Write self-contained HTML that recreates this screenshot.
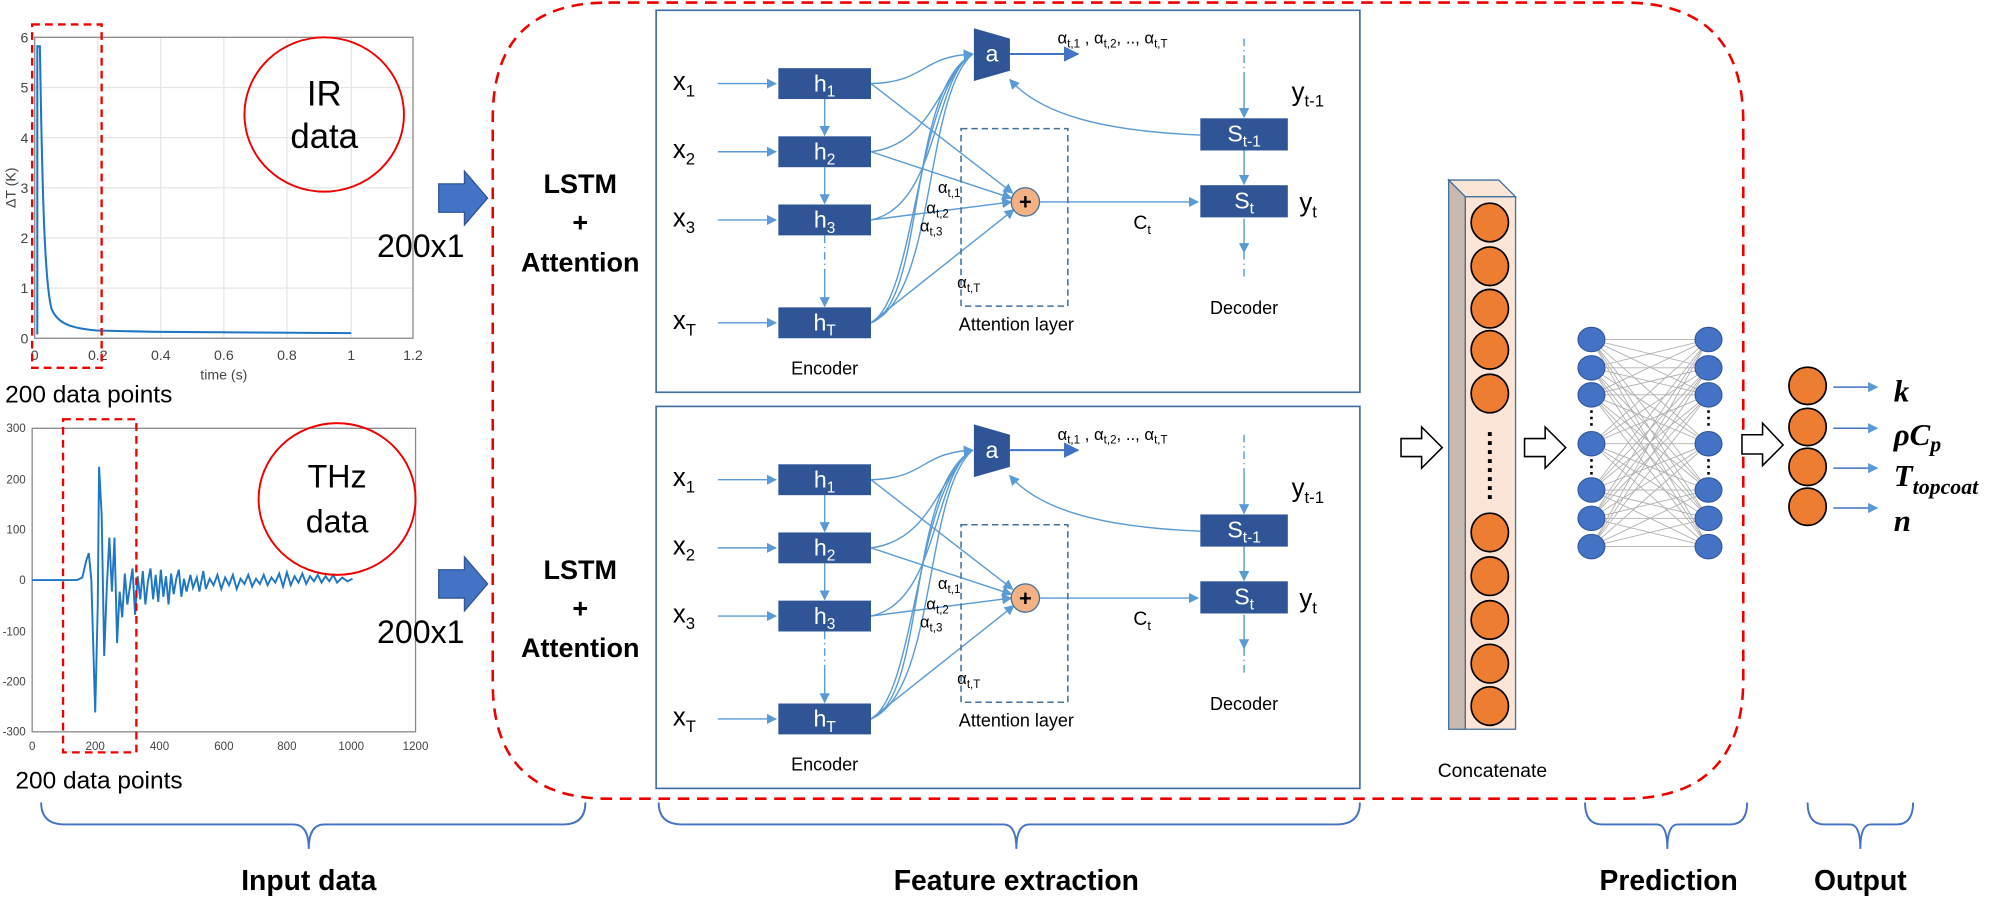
<!DOCTYPE html>
<html><head><meta charset="utf-8"><style>html,body{margin:0;padding:0;background:#fff}svg{display:block}</style></head>
<body>
<svg xmlns="http://www.w3.org/2000/svg" width="2007" height="899" viewBox="0 0 1560 699" preserveAspectRatio="none" font-family="Liberation Sans, sans-serif">
<defs>
<marker id="ar" markerWidth="8" markerHeight="8" refX="7" refY="4" orient="auto" markerUnits="userSpaceOnUse"><path d="M0,0 L8,4 L0,8 Z" fill="#5b9bd5"/></marker>
<marker id="ar2" markerWidth="12" markerHeight="12" refX="11" refY="6" orient="auto" markerUnits="userSpaceOnUse"><path d="M0,0 L12,6 L0,12 Z" fill="#4472c4"/></marker>
</defs>

<!-- IR plot -->
<g stroke="#e6e6e6" stroke-width="1">
<line x1="76" y1="29" x2="76" y2="263"/><line x1="125" y1="29" x2="125" y2="263"/><line x1="174" y1="29" x2="174" y2="263"/><line x1="223" y1="29" x2="223" y2="263"/><line x1="273" y1="29" x2="273" y2="263"/>
<line x1="27" y1="68" x2="321" y2="68"/><line x1="27" y1="107" x2="321" y2="107"/><line x1="27" y1="146" x2="321" y2="146"/><line x1="27" y1="185" x2="321" y2="185"/><line x1="27" y1="224" x2="321" y2="224"/>
</g>
<rect x="27" y="29" width="294" height="234" fill="none" stroke="#888" stroke-width="1"/>
<g font-size="11" fill="#444" text-anchor="end">
<text x="22" y="33">6</text><text x="22" y="72">5</text><text x="22" y="111">4</text><text x="22" y="150">3</text><text x="22" y="189">2</text><text x="22" y="228">1</text><text x="22" y="267">0</text>
</g>
<g font-size="11" fill="#444" text-anchor="middle">
<text x="27" y="280">0</text><text x="76" y="280">0.2</text><text x="125" y="280">0.4</text><text x="174" y="280">0.6</text><text x="223" y="280">0.8</text><text x="273" y="280">1</text><text x="321" y="280">1.2</text>
<text x="174" y="295">time (s)</text>
</g>
<text x="12" y="146" font-size="11" fill="#444" text-anchor="middle" transform="rotate(-90 12 146)">ΔT (K)</text>
<path d="M29,260 L29,36 L31,36 C33,160 35,220 40,240 C45,252 55,255 75,257 L120,258 L273,259" fill="none" stroke="#1f77c4" stroke-width="1.6"/>
<rect x="25" y="19" width="54" height="267" fill="none" stroke="#e00" stroke-width="1.8" stroke-dasharray="6,4"/>
<ellipse cx="252" cy="89" rx="62" ry="60" fill="none" stroke="#e00" stroke-width="1.5"/>
<text x="252" y="82" font-size="27" text-anchor="middle">IR</text>
<text x="252" y="115" font-size="27" text-anchor="middle">data</text>
<text x="4" y="313" font-size="19">200 data points</text>

<!-- THz plot -->
<rect x="25" y="333" width="298" height="236" fill="none" stroke="#888" stroke-width="1"/>
<g font-size="9" fill="#444" text-anchor="end">
<text x="20" y="336">300</text><text x="20" y="376">200</text><text x="20" y="415">100</text><text x="20" y="454">0</text><text x="20" y="494">-100</text><text x="20" y="533">-200</text><text x="20" y="572">-300</text>
</g>
<g font-size="9" fill="#444" text-anchor="middle">
<text x="25" y="583">0</text><text x="74" y="583">200</text><text x="124" y="583">400</text><text x="174" y="583">600</text><text x="223" y="583">800</text><text x="273" y="583">1000</text><text x="323" y="583">1200</text>
</g>
<path d="M25,451 L60,451 L64,449 L67,436 L69,430 L71,451 L73,520 L74,554 L76,470 L77,363 L79,400 L81,510 L83,457 L85,418 L87,460 L89,418 L91,500 L93,460 L95,480 L97,446 L99,470 L101,456 L103,442 L105,478 L107,448 L109,466 L111,444 L113,470 L115,452 L117,442 L119,466 L121,447 L123,468 L125,443 L127,464 L129,448 L131,470 L133,446 L135,462 L137,450 L139,443 L141,464 L143,450 L145,460 L148,447 L150,457 L153,449 L155,460 L158,444 L160,458 L163,450 L166,455 L169,447 L172,458 L175,449 L178,455 L181,447 L184,458 L187,450 L190,454 L193,447 L196,456 L199,450 L202,454 L205,447 L208,455 L211,449 L214,453 L217,446 L220,456 L223,445 L226,455 L229,448 L232,453 L235,446 L238,454 L241,448 L244,452 L247,447 L250,453 L253,448 L256,452 L259,447 L262,453 L266,449 L270,452 L274,450" fill="none" stroke="#1f77c4" stroke-width="1.5"/>
<rect x="49" y="326" width="57" height="259" fill="none" stroke="#e00" stroke-width="1.8" stroke-dasharray="6,4"/>
<ellipse cx="262" cy="388" rx="61" ry="59" fill="none" stroke="#e00" stroke-width="1.5"/>
<text x="262" y="379" font-size="25" text-anchor="middle">THz</text>
<text x="262" y="414" font-size="25" text-anchor="middle">data</text>
<text x="12" y="613" font-size="19">200 data points</text>

<!-- blue arrows -->
<polygon points="341,143 361,143 361,133 379,154 361,175 361,165 341,165" fill="#4472c4" stroke="#2f5597" stroke-width="1"/>
<polygon points="341,443 361,443 361,433 379,454 361,475 361,465 341,465" fill="#4472c4" stroke="#2f5597" stroke-width="1"/>
<text x="293" y="200" font-size="25">200x1</text>
<text x="293" y="500" font-size="25">200x1</text>
<g font-size="21" font-weight="bold" text-anchor="middle">
<text x="451" y="150">LSTM</text><text x="451" y="180">+</text><text x="451" y="211">Attention</text>
<text x="451" y="450">LSTM</text><text x="451" y="480">+</text><text x="451" y="511">Attention</text>
</g>

<!-- red dashed outer -->
<path d="M473,2 L1262,2 Q1355,2 1355,95 L1355,528 Q1355,621 1262,621 L473,621 Q383,621 383,531 L383,92 Q383,2 473,2 Z" fill="none" stroke="#e00" stroke-width="2" stroke-dasharray="9,6"/>

<!-- Encoder block (top) -->
<g>
<rect x="510" y="8" width="547" height="297" fill="#fff" stroke="#41719c" stroke-width="1.3"/>
<g stroke="#5b9bd5" stroke-width="1.1" fill="none">
<line x1="558" y1="65" x2="603" y2="65" marker-end="url(#ar)"/>
<line x1="558" y1="118" x2="603" y2="118" marker-end="url(#ar)"/>
<line x1="558" y1="171" x2="603" y2="171" marker-end="url(#ar)"/>
<line x1="558" y1="251" x2="603" y2="251" marker-end="url(#ar)"/>
<line x1="641" y1="77" x2="641" y2="105" marker-end="url(#ar)"/>
<line x1="641" y1="130" x2="641" y2="158" marker-end="url(#ar)"/>
<line x1="641" y1="183" x2="641" y2="215" stroke-dasharray="6,3,1,3"/>
<line x1="641" y1="215" x2="641" y2="238" marker-end="url(#ar)"/>
<line x1="677" y1="65" x2="787" y2="150" marker-end="url(#ar)"/>
<line x1="677" y1="118" x2="786" y2="154" marker-end="url(#ar)"/>
<line x1="677" y1="171" x2="786" y2="157" marker-end="url(#ar)"/>
<line x1="677" y1="251" x2="788" y2="163" marker-end="url(#ar)"/>
<path d="M677,65 C720,64 715,44 756,42" marker-end="url(#ar)"/>
<path d="M677,118 C725,112 730,60 756,42"/>
<path d="M677,171 C730,160 725,60 756,42"/>
<path d="M677,251 C720,235 705,70 756,42"/>
<path d="M677,251 C712,232 712,70 756,42"/>
<path d="M677,251 C728,230 718,75 756,42"/>
<line x1="785" y1="42" x2="838" y2="42" stroke="#4472c4" stroke-width="1.5" marker-end="url(#ar2)"/>
<path d="M933,105 C860,102 810,90 785,62" marker-end="url(#ar)"/>
<line x1="808" y1="157" x2="931" y2="157" marker-end="url(#ar)"/>
<line x1="967" y1="30" x2="967" y2="60" stroke-dasharray="6,3,1,3"/>
<line x1="967" y1="60" x2="967" y2="91" marker-end="url(#ar)"/>
<line x1="967" y1="117" x2="967" y2="143" marker-end="url(#ar)"/>
<line x1="967" y1="170" x2="967" y2="196" marker-end="url(#ar)"/>
<line x1="967" y1="196" x2="967" y2="218" stroke-dasharray="6,3,1,3"/>
</g>
<rect x="747" y="100" width="83" height="138" fill="none" stroke="#41719c" stroke-width="1.2" stroke-dasharray="5,3"/>
<g fill="#2f5597">
<rect x="605" y="53" width="72" height="24"/><rect x="605" y="106" width="72" height="24"/><rect x="605" y="159" width="72" height="24"/><rect x="605" y="239" width="72" height="24"/>
<rect x="933" y="92" width="68" height="25"/><rect x="933" y="144" width="68" height="25"/>
<polygon points="757,22 785,30 785,55 757,63"/>
</g>
<circle cx="797" cy="157" r="11" fill="#f4b183" stroke="#41719c" stroke-width="1"/>
<text x="797" y="163" font-size="17" text-anchor="middle" font-weight="bold">+</text>
<g fill="#fff" font-size="18" text-anchor="middle">
<text x="641" y="71">h<tspan font-size="12" dy="4">1</tspan></text>
<text x="641" y="124">h<tspan font-size="12" dy="4">2</tspan></text>
<text x="641" y="177">h<tspan font-size="12" dy="4">3</tspan></text>
<text x="641" y="257">h<tspan font-size="12" dy="4">T</tspan></text>
<text x="967" y="110">S<tspan font-size="12" dy="4">t-1</tspan></text>
<text x="967" y="162">S<tspan font-size="12" dy="4">t</tspan></text>
<text x="771" y="48">a</text>
</g>
<g font-size="20">
<text x="523" y="70">x<tspan font-size="13" dy="5">1</tspan></text>
<text x="523" y="123">x<tspan font-size="13" dy="5">2</tspan></text>
<text x="523" y="176">x<tspan font-size="13" dy="5">3</tspan></text>
<text x="523" y="256">x<tspan font-size="13" dy="5">T</tspan></text>
<text x="1004" y="78">y<tspan font-size="13" dy="5">t-1</tspan></text>
<text x="1010" y="164">y<tspan font-size="13" dy="5">t</tspan></text>
</g>
<g font-size="13">
<text x="822" y="34">α<tspan font-size="9" dy="3">t,1</tspan><tspan dy="-3"> , α</tspan><tspan font-size="9" dy="3">t,2</tspan><tspan dy="-3">, .., α</tspan><tspan font-size="9" dy="3">t,T</tspan></text>
<text x="729" y="150">α<tspan font-size="9" dy="3">t,1</tspan></text>
<text x="720" y="166">α<tspan font-size="9" dy="3">t,2</tspan></text>
<text x="715" y="180">α<tspan font-size="9" dy="3">t,3</tspan></text>
<text x="744" y="224">α<tspan font-size="9" dy="3">t,T</tspan></text>
<text x="881" y="178" font-size="15">C<tspan font-size="10" dy="4">t</tspan></text>
</g>
<g font-size="14" text-anchor="middle">
<text x="790" y="257">Attention layer</text>
<text x="967" y="244">Decoder</text>
<text x="641" y="291">Encoder</text>
</g>
</g>

<!-- Encoder block (bottom) -->
<g transform="translate(0,308)">
<rect x="510" y="8" width="547" height="297" fill="#fff" stroke="#41719c" stroke-width="1.3"/>
<g stroke="#5b9bd5" stroke-width="1.1" fill="none">
<line x1="558" y1="65" x2="603" y2="65" marker-end="url(#ar)"/>
<line x1="558" y1="118" x2="603" y2="118" marker-end="url(#ar)"/>
<line x1="558" y1="171" x2="603" y2="171" marker-end="url(#ar)"/>
<line x1="558" y1="251" x2="603" y2="251" marker-end="url(#ar)"/>
<line x1="641" y1="77" x2="641" y2="105" marker-end="url(#ar)"/>
<line x1="641" y1="130" x2="641" y2="158" marker-end="url(#ar)"/>
<line x1="641" y1="183" x2="641" y2="215" stroke-dasharray="6,3,1,3"/>
<line x1="641" y1="215" x2="641" y2="238" marker-end="url(#ar)"/>
<line x1="677" y1="65" x2="787" y2="150" marker-end="url(#ar)"/>
<line x1="677" y1="118" x2="786" y2="154" marker-end="url(#ar)"/>
<line x1="677" y1="171" x2="786" y2="157" marker-end="url(#ar)"/>
<line x1="677" y1="251" x2="788" y2="163" marker-end="url(#ar)"/>
<path d="M677,65 C720,64 715,44 756,42" marker-end="url(#ar)"/>
<path d="M677,118 C725,112 730,60 756,42"/>
<path d="M677,171 C730,160 725,60 756,42"/>
<path d="M677,251 C720,235 705,70 756,42"/>
<path d="M677,251 C712,232 712,70 756,42"/>
<path d="M677,251 C728,230 718,75 756,42"/>
<line x1="785" y1="42" x2="838" y2="42" stroke="#4472c4" stroke-width="1.5" marker-end="url(#ar2)"/>
<path d="M933,105 C860,102 810,90 785,62" marker-end="url(#ar)"/>
<line x1="808" y1="157" x2="931" y2="157" marker-end="url(#ar)"/>
<line x1="967" y1="30" x2="967" y2="60" stroke-dasharray="6,3,1,3"/>
<line x1="967" y1="60" x2="967" y2="91" marker-end="url(#ar)"/>
<line x1="967" y1="117" x2="967" y2="143" marker-end="url(#ar)"/>
<line x1="967" y1="170" x2="967" y2="196" marker-end="url(#ar)"/>
<line x1="967" y1="196" x2="967" y2="218" stroke-dasharray="6,3,1,3"/>
</g>
<rect x="747" y="100" width="83" height="138" fill="none" stroke="#41719c" stroke-width="1.2" stroke-dasharray="5,3"/>
<g fill="#2f5597">
<rect x="605" y="53" width="72" height="24"/><rect x="605" y="106" width="72" height="24"/><rect x="605" y="159" width="72" height="24"/><rect x="605" y="239" width="72" height="24"/>
<rect x="933" y="92" width="68" height="25"/><rect x="933" y="144" width="68" height="25"/>
<polygon points="757,22 785,30 785,55 757,63"/>
</g>
<circle cx="797" cy="157" r="11" fill="#f4b183" stroke="#41719c" stroke-width="1"/>
<text x="797" y="163" font-size="17" text-anchor="middle" font-weight="bold">+</text>
<g fill="#fff" font-size="18" text-anchor="middle">
<text x="641" y="71">h<tspan font-size="12" dy="4">1</tspan></text>
<text x="641" y="124">h<tspan font-size="12" dy="4">2</tspan></text>
<text x="641" y="177">h<tspan font-size="12" dy="4">3</tspan></text>
<text x="641" y="257">h<tspan font-size="12" dy="4">T</tspan></text>
<text x="967" y="110">S<tspan font-size="12" dy="4">t-1</tspan></text>
<text x="967" y="162">S<tspan font-size="12" dy="4">t</tspan></text>
<text x="771" y="48">a</text>
</g>
<g font-size="20">
<text x="523" y="70">x<tspan font-size="13" dy="5">1</tspan></text>
<text x="523" y="123">x<tspan font-size="13" dy="5">2</tspan></text>
<text x="523" y="176">x<tspan font-size="13" dy="5">3</tspan></text>
<text x="523" y="256">x<tspan font-size="13" dy="5">T</tspan></text>
<text x="1004" y="78">y<tspan font-size="13" dy="5">t-1</tspan></text>
<text x="1010" y="164">y<tspan font-size="13" dy="5">t</tspan></text>
</g>
<g font-size="13">
<text x="822" y="34">α<tspan font-size="9" dy="3">t,1</tspan><tspan dy="-3"> , α</tspan><tspan font-size="9" dy="3">t,2</tspan><tspan dy="-3">, .., α</tspan><tspan font-size="9" dy="3">t,T</tspan></text>
<text x="729" y="150">α<tspan font-size="9" dy="3">t,1</tspan></text>
<text x="720" y="166">α<tspan font-size="9" dy="3">t,2</tspan></text>
<text x="715" y="180">α<tspan font-size="9" dy="3">t,3</tspan></text>
<text x="744" y="224">α<tspan font-size="9" dy="3">t,T</tspan></text>
<text x="881" y="178" font-size="15">C<tspan font-size="10" dy="4">t</tspan></text>
</g>
<g font-size="14" text-anchor="middle">
<text x="790" y="257">Attention layer</text>
<text x="967" y="244">Decoder</text>
<text x="641" y="291">Encoder</text>
</g>
</g>

<!-- hollow arrows -->
<g fill="#fff" stroke="#000" stroke-width="1.2">
<polygon points="1089,341 1105,341 1105,332 1121,348 1105,364 1105,355 1089,355"/>
<polygon points="1185,341 1201,341 1201,332 1217,348 1201,364 1201,355 1185,355"/>
<polygon points="1354,338 1370,338 1370,329 1386,346 1370,362 1370,353 1354,353"/>
</g>

<!-- Concatenate column -->
<polygon points="1126,140 1165,140 1178,153 1139,153" fill="#fbe5d6" stroke="#41719c" stroke-width="1"/>
<polygon points="1126,140 1139,153 1139,567 1126,567" fill="#c9b8ad" stroke="#41719c" stroke-width="1"/>
<rect x="1139" y="153" width="39" height="414" fill="#fbe5d6" stroke="#41719c" stroke-width="1"/>
<g fill="#ed7d31" stroke="#000" stroke-width="1.3">
<ellipse cx="1158" cy="173" rx="14.5" ry="15"/><ellipse cx="1158" cy="207" rx="14.5" ry="15"/><ellipse cx="1158" cy="240" rx="14.5" ry="15"/><ellipse cx="1158" cy="272" rx="14.5" ry="15"/><ellipse cx="1158" cy="306" rx="14.5" ry="15"/>
<ellipse cx="1158" cy="414" rx="14.5" ry="15"/><ellipse cx="1158" cy="448" rx="14.5" ry="15"/><ellipse cx="1158" cy="482" rx="14.5" ry="15"/><ellipse cx="1158" cy="516" rx="14.5" ry="15"/><ellipse cx="1158" cy="549" rx="14.5" ry="15"/>
</g>
<line x1="1158" y1="336" x2="1158" y2="388" stroke="#000" stroke-width="3" stroke-dasharray="3,4"/>
<text x="1160" y="604" font-size="15" text-anchor="middle">Concatenate</text>

<!-- Network -->
<path stroke="#b0b0b0" stroke-width="0.7" fill="none" d="
M1237,264 L1328,264 M1237,264 L1328,286 M1237,264 L1328,307 M1237,264 L1328,345 M1237,264 L1328,381 M1237,264 L1328,403 M1237,264 L1328,425
M1237,286 L1328,264 M1237,286 L1328,286 M1237,286 L1328,307 M1237,286 L1328,345 M1237,286 L1328,381 M1237,286 L1328,403 M1237,286 L1328,425
M1237,307 L1328,264 M1237,307 L1328,286 M1237,307 L1328,307 M1237,307 L1328,345 M1237,307 L1328,381 M1237,307 L1328,403 M1237,307 L1328,425
M1237,345 L1328,264 M1237,345 L1328,286 M1237,345 L1328,307 M1237,345 L1328,345 M1237,345 L1328,381 M1237,345 L1328,403 M1237,345 L1328,425
M1237,381 L1328,264 M1237,381 L1328,286 M1237,381 L1328,307 M1237,381 L1328,345 M1237,381 L1328,381 M1237,381 L1328,403 M1237,381 L1328,425
M1237,403 L1328,264 M1237,403 L1328,286 M1237,403 L1328,307 M1237,403 L1328,345 M1237,403 L1328,381 M1237,403 L1328,403 M1237,403 L1328,425
M1237,425 L1328,264 M1237,425 L1328,286 M1237,425 L1328,307 M1237,425 L1328,345 M1237,425 L1328,381 M1237,425 L1328,403 M1237,425 L1328,425"/>
<g fill="#4472c4" stroke="#2f5597" stroke-width="0.8">
<ellipse cx="1237" cy="264" rx="10.5" ry="9.5"/><ellipse cx="1237" cy="286" rx="10.5" ry="9.5"/><ellipse cx="1237" cy="307" rx="10.5" ry="9.5"/><ellipse cx="1237" cy="345" rx="10.5" ry="9.5"/><ellipse cx="1237" cy="381" rx="10.5" ry="9.5"/><ellipse cx="1237" cy="403" rx="10.5" ry="9.5"/><ellipse cx="1237" cy="425" rx="10.5" ry="9.5"/>
<ellipse cx="1328" cy="264" rx="10.5" ry="9.5"/><ellipse cx="1328" cy="286" rx="10.5" ry="9.5"/><ellipse cx="1328" cy="307" rx="10.5" ry="9.5"/><ellipse cx="1328" cy="345" rx="10.5" ry="9.5"/><ellipse cx="1328" cy="381" rx="10.5" ry="9.5"/><ellipse cx="1328" cy="403" rx="10.5" ry="9.5"/><ellipse cx="1328" cy="425" rx="10.5" ry="9.5"/>
</g>
<g stroke="#000" stroke-width="2" stroke-dasharray="2,3">
<line x1="1237" y1="319" x2="1237" y2="334"/><line x1="1237" y1="357" x2="1237" y2="370"/>
<line x1="1328" y1="319" x2="1328" y2="334"/><line x1="1328" y1="357" x2="1328" y2="370"/>
</g>

<!-- Output -->
<g fill="#ed7d31" stroke="#000" stroke-width="1.3">
<ellipse cx="1405" cy="300" rx="14.5" ry="14.5"/><ellipse cx="1405" cy="332" rx="14.5" ry="14.5"/><ellipse cx="1405" cy="363" rx="14.5" ry="14.5"/><ellipse cx="1405" cy="394" rx="14.5" ry="14.5"/>
</g>
<g stroke="#4472c4" stroke-width="1.2">
<line x1="1425" y1="301" x2="1459" y2="301" marker-end="url(#ar)"/>
<line x1="1425" y1="333" x2="1459" y2="333" marker-end="url(#ar)"/>
<line x1="1425" y1="364" x2="1459" y2="364" marker-end="url(#ar)"/>
<line x1="1425" y1="395" x2="1459" y2="395" marker-end="url(#ar)"/>
</g>
<g font-family="Liberation Serif, serif" font-style="italic" font-weight="bold" font-size="24">
<text x="1472" y="312">k</text>
<text x="1472" y="346">ρC<tspan font-size="17" dy="5">p</tspan></text>
<text x="1472" y="378">T<tspan font-size="17" dy="6">topcoat</tspan></text>
<text x="1472" y="413">n</text>
</g>

<!-- braces -->
<g fill="none" stroke="#4472c4" stroke-width="1.5">
<path d="M32,624 Q32,641 50,641 L228,641 Q240,641 240,660 Q240,641 252,641 L438,641 Q455,641 455,624"/>
<path d="M512,624 Q512,641 530,641 L780,641 Q790,641 790,660 Q790,641 800,641 L1039,641 Q1057,641 1057,624"/>
<path d="M1232,624 Q1232,641 1245,641 L1288,641 Q1296,641 1296,660 Q1296,641 1304,641 L1345,641 Q1358,641 1358,624"/>
<path d="M1405,624 Q1405,641 1418,641 L1438,641 Q1446,641 1446,660 Q1446,641 1454,641 L1474,641 Q1487,641 1487,624"/>
</g>
<g font-size="22" font-weight="bold" text-anchor="middle">
<text x="240" y="692">Input data</text>
<text x="790" y="692">Feature extraction</text>
<text x="1297" y="692">Prediction</text>
<text x="1446" y="692">Output</text>
</g>
</svg>
</body></html>
